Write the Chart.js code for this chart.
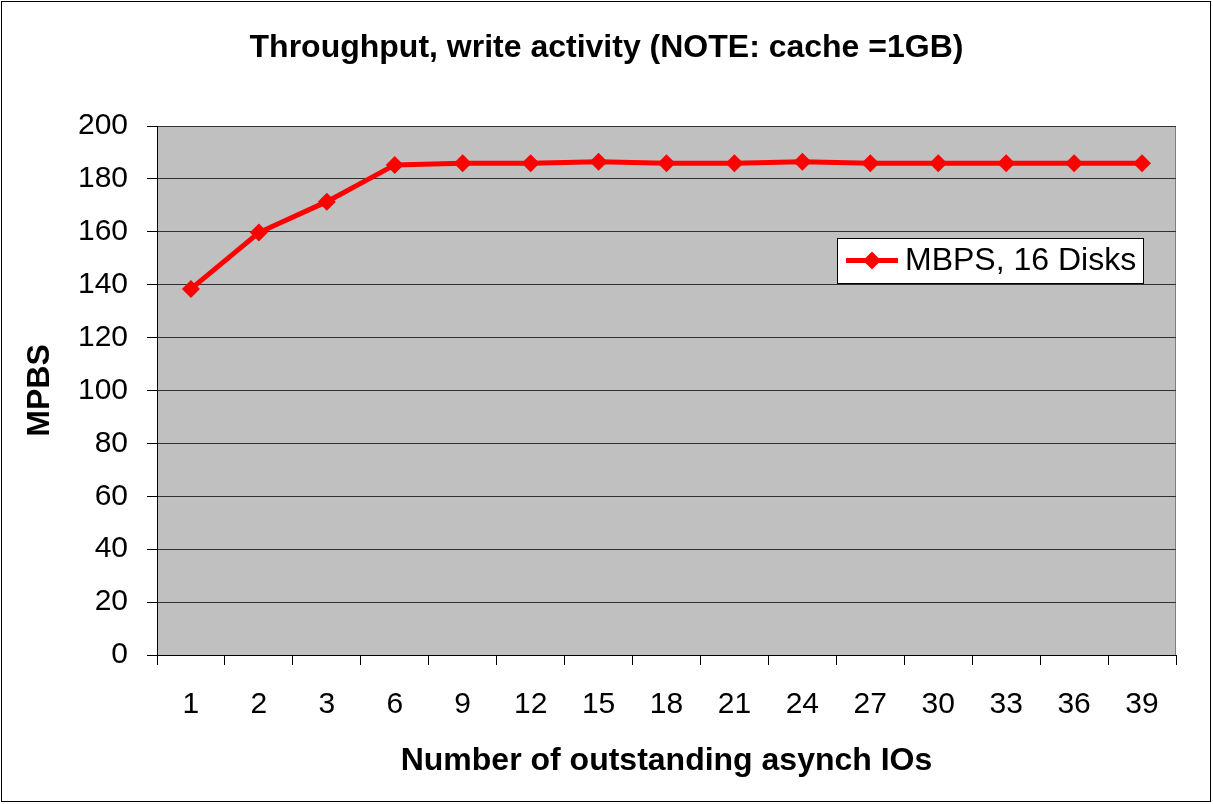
<!DOCTYPE html>
<html>
<head>
<meta charset="utf-8">
<title>Throughput, write activity</title>
<script src="https://cdn.jsdelivr.net/npm/chart.js@4/dist/chart.umd.min.js"></script>
<style>
  html, body { margin: 0; padding: 0; background: #fff; }
  #wrap { width: 1213px; height: 804px; position: relative; }
</style>
</head>
<body>
<div id="wrap"><canvas id="chart"></canvas></div>
<script>
const outstandingIOs = ['1', '2', '3', '6', '9', '12', '15', '18', '21', '24', '27', '30', '33', '36', '39']
const mbps16Disks = [138.4, 159.7, 171.4, 185.3, 185.9, 185.9, 186.5, 185.9, 185.9, 186.5, 185.9, 185.9, 185.9, 185.9, 185.9]
const yTicks = [0, 20, 40, 60, 80, 100, 120, 140, 160, 180, 200]

const FONT = "'Liberation Sans', Arial, sans-serif"

// grey plot area with a grey frame, like the old Excel look
const plotBackground = {
  id: 'plotBackground',
  beforeDraw(chart) {
    const { ctx, chartArea: a } = chart
    ctx.save()
    ctx.fillStyle = '#C0C0C0'
    ctx.fillRect(a.left, a.top, a.right - a.left, a.bottom - a.top)
    ctx.strokeStyle = '#808080'
    ctx.lineWidth = 1
    ctx.strokeRect(Math.round(a.left) + 0.5, Math.round(a.top) + 0.5,
      Math.round(a.right - a.left) - 1, Math.round(a.bottom - a.top))
    ctx.restore()
  },
  afterDraw(chart) {
    const { ctx, width, height } = chart
    ctx.save()
    ctx.strokeStyle = '#000'
    ctx.lineWidth = 1
    ctx.strokeRect(1.5, 1.5, width - 4, height - 4)
    ctx.restore()
  }
}

// legend box sitting inside the plot, right side
const boxLegend = {
  id: 'boxLegend',
  afterDatasetsDraw(chart) {
    const { ctx } = chart
    const ds = chart.data.datasets[0]
    const x = 837, y = 238, w = 306, h = 45
    ctx.save()
    ctx.fillStyle = '#fff'
    ctx.fillRect(x, y, w, h)
    ctx.strokeStyle = '#000'
    ctx.lineWidth = 1
    ctx.strokeRect(x + 0.5, y + 0.5, w, h)
    const cy = y + h / 2
    ctx.strokeStyle = ds.borderColor
    ctx.lineWidth = ds.borderWidth
    ctx.beginPath()
    ctx.moveTo(x + 9, cy)
    ctx.lineTo(x + 61, cy)
    ctx.stroke()
    ctx.fillStyle = ds.pointBackgroundColor
    Chart.helpers.drawPoint(ctx, { pointStyle: 'rectRot', radius: 9, borderWidth: 0 }, x + 35, cy)
    ctx.fillStyle = '#000'
    ctx.font = '32px ' + FONT
    ctx.textBaseline = 'middle'
    ctx.textAlign = 'left'
    ctx.fillText(ds.label, x + 68, cy + 1)
    ctx.restore()
  }
}

const ctx = document.getElementById('chart').getContext('2d')

new Chart(ctx, {
  type: 'line',
  data: {
    labels: outstandingIOs,
    datasets: [{
      label: 'MBPS, 16 Disks',
      data: mbps16Disks,
      borderColor: '#FF0000',
      backgroundColor: '#FF0000',
      pointBackgroundColor: '#FF0000',
      pointBorderColor: '#FF0000',
      borderWidth: 5,
      pointStyle: 'rectRot',
      pointRadius: 9,
      pointBorderWidth: 0,
      tension: 0,
      fill: false
    }]
  },
  options: {
    responsive: true,
    maintainAspectRatio: false,
    animation: false,
    devicePixelRatio: 1,
    layout: { padding: 0 },
    plugins: {
      legend: { display: false },
      tooltip: { enabled: false },
      title: {
        display: true,
        text: 'Throughput, write activity (NOTE: cache =1GB)',
        color: '#000',
        font: { family: FONT, size: 32, weight: 'bold', lineHeight: 1.2 },
        padding: { top: 29, bottom: 58.6 }
      }
    },
    scales: {
      x: {
        offset: true,
        grid: {
          offset: true,
          drawOnChartArea: false,
          drawTicks: true,
          tickLength: 10,
          tickColor: '#000'
        },
        border: { display: true, color: '#000', width: 1 },
        ticks: {
          color: '#000',
          padding: 22,
          maxRotation: 0,
          autoSkip: false,
          font: { family: FONT, size: 30 }
        },
        title: {
          display: true,
          text: 'Number of outstanding asynch IOs',
          color: '#000',
          font: { family: FONT, size: 32, weight: 'bold', lineHeight: 1.2 },
          padding: { top: 0, bottom: 24 }
        },
        afterFit(scale) { scale.height = 149 }
      },
      y: {
        min: 0,
        max: 200,
        afterBuildTicks(scale) { scale.ticks = yTicks.map(v => ({ value: v })) },
        grid: {
          color: '#303030',
          lineWidth: 1,
          drawTicks: true,
          tickLength: 10,
          tickColor: '#000'
        },
        border: { display: true, color: '#000', width: 1 },
        ticks: {
          color: '#000',
          padding: 19,
          font: { family: FONT, size: 30 }
        },
        title: {
          display: true,
          text: 'MPBS',
          color: '#000',
          font: { family: FONT, size: 32, weight: 'bold', lineHeight: 1.2 },
          padding: { top: 21, bottom: 0 }
        },
        afterFit(scale) { scale.width = 157 }
      },
      // empty strip on the right so the title stays centred on the whole page
      spacer: {
        type: 'linear',
        position: 'right',
        display: true,
        grid: { display: false, drawTicks: false },
        border: { display: false },
        ticks: { display: false },
        afterFit(scale) { scale.width = 37 }
      }
    }
  },
  plugins: [plotBackground, boxLegend]
})
</script>
</body>
</html>
